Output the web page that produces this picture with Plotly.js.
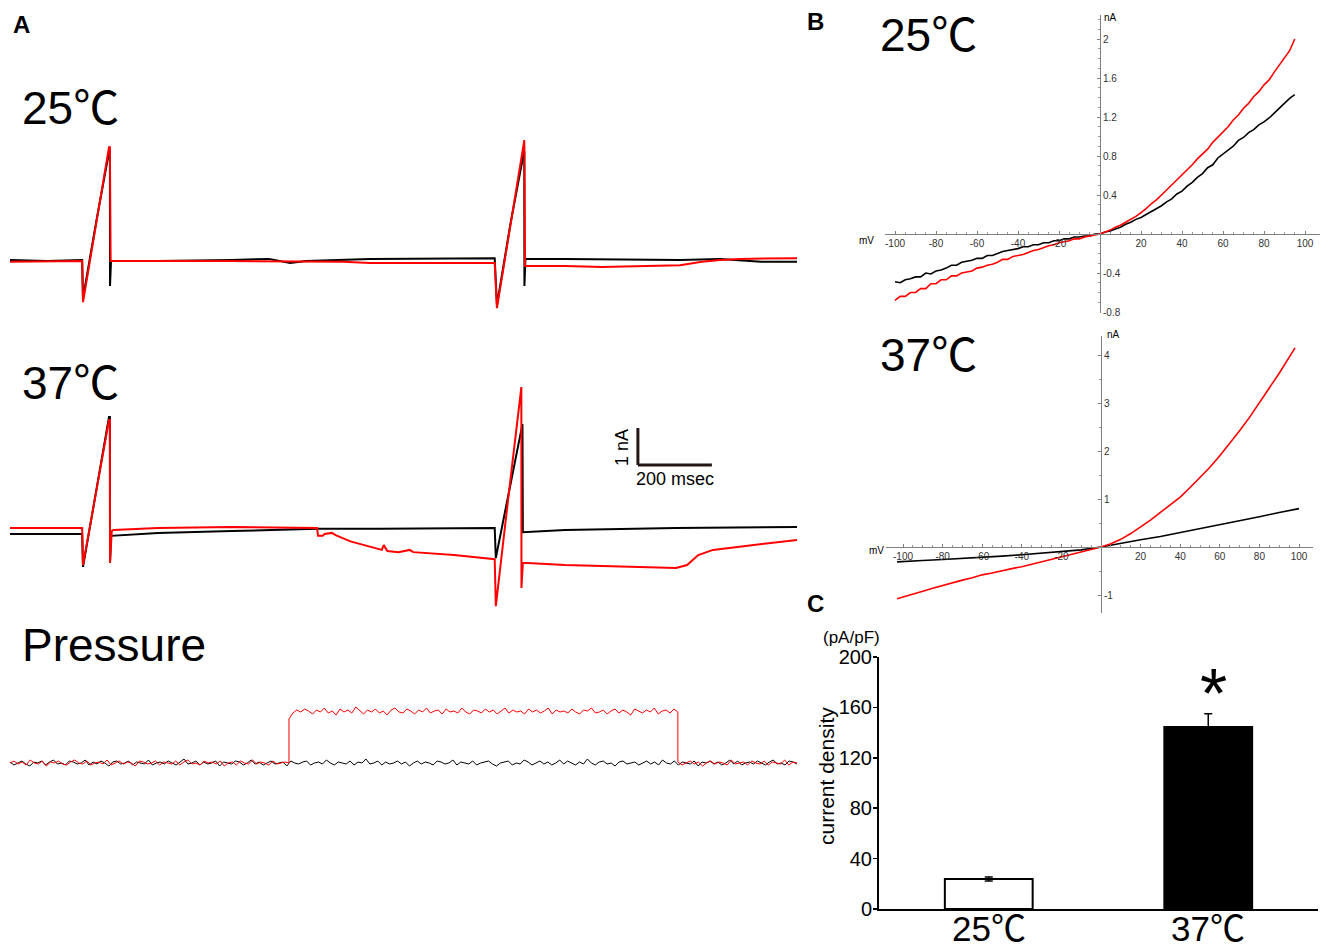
<!DOCTYPE html>
<html>
<head>
<meta charset="utf-8">
<script src="https://cdn.plot.ly/plotly-3.0.1.min.js"></script>
<style>html,body{margin:0;padding:0;background:#fff;}#chart{width:1330px;height:951px;}</style>
</head>
<body>
<div id="chart"></div>
<script>
// ---------------- DATA ----------------
// Panel A, 25 °C whole-cell current traces (time in ms, current in nA)
const a25BlackT = [0,100,195,197.3,232.4,267.6,270,270.3,273,400,600,700,757,800,973,1200,1310,1316,1352,1389,1390,1390.3,1393,1500,1700,1811,1919,1973,2030,2127];
const a25BlackI = [0,-0.03,0,-1.03,1.00,2.92,2.92,-0.70,-0.03,-0.03,0,0.03,-0.08,-0.03,0.03,0.03,0.05,-1.22,0.95,2.92,2.92,-0.70,0.03,0.03,0,0,0.03,0,-0.05,-0.05];
const a25RedT = [0,100,195,197.3,232.4,267.6,270,272,600,900,973,1200,1310,1316,1352,1389,1390,1392,1500,1600,1700,1811,1870,1919,1973,2127];
const a25RedI = [-0.05,-0.03,-0.03,-1.14,1.00,3.05,3.05,-0.03,-0.03,-0.05,-0.08,-0.08,-0.08,-1.30,0.92,3.24,3.24,-0.16,-0.16,-0.19,-0.16,-0.14,-0.05,0,0.03,0.05];

// Panel A, 37 °C
const a37BlackT = [0,195,197.3,232.4,267.6,270,270.3,273,400,600,832,1000,1200,1310,1313,1349,1384,1385,1386,1500,1800,2127];
const a37BlackI = [0,0,-0.89,1.15,3.16,3.16,-0.78,-0.05,0.03,0.08,0.14,0.14,0.16,0.16,-0.65,1.20,2.97,2.97,0.05,0.11,0.16,0.19];
const a37RedT = [0,195,197.3,232.4,267.6,270,270.3,275,280,400,600,830,832.4,845,850,870,880,920,973,990,1005,1010,1020,1050,1080,1090,1200,1310,1313,1347,1381,1382,1382.3,1386,1500,1700,1800,1830,1860,1900,2000,2127];
const a37RedI = [0.16,0.16,-0.84,1.15,3.08,3.08,-0.78,0.08,0.11,0.16,0.19,0.16,-0.05,-0.05,0.0,0.03,-0.03,-0.20,-0.35,-0.38,-0.43,-0.30,-0.46,-0.49,-0.43,-0.49,-0.57,-0.68,-1.95,1.00,3.97,3.97,-1.46,-0.78,-0.84,-0.89,-0.92,-0.84,-0.57,-0.43,-0.32,-0.16];

// Panel A, pressure (arbitrary units), samples spread evenly over each segment
const pressureEndMs = 2127;
const pressureOnMs = 754;
const pressureOffMs = 1805;
const pressBlack = [1,-2,0,2,-1,-3,1,0,2,-2, 1,3,-1,0,-2,2,1,-1,0,3, -2,1,-1,2,0,-3,1,2,-1,0, 2,-2,1,0,-1,3,-2,0,1,-1,
  2,0,-2,1,4,-1,0,2,-2,1, -1,0,2,-3,1,0,-1,2,1,-2, 0,3,-1,1,-2,0,2,-1,0,1, -3,2,0,-1,1,2,-2,0,1,-1,
  3,0,-2,1,0,-1,2,-2,1,0, 4,-1,0,2,-2,1,-1,0,2,-1, 1,-3,0,2,-1,1,0,-2,2,1, -1,0,3,-2,1,0,-1,2,-2,0,
  1,2,-1,-3,0,1,2,-2,0,-1, 3,1,-2,0,2,-1,1,-2,0,3, -1,2,0,-2,1,-1,4,0,-2,1, 2,-1,0,-3,1,2,-1,0,1,-2,
  0,2,-1,1,-2,3,0,-1,2,-2, 1,0,-1,2,-3,1,0,2,-1,1, -2,0,3,-1,2,-2,0,1,-1,2, 0,-2,1,3,-1,0,-2,2,1,-1];
const pressRedPre = [0,2,-1,1,-2,3,0,-1,2,-3, 1,0,2,-1,-2,1,3,0,-1,2, -2,0,1,-1,3,-2,0,2,-1,1, 0,-3,2,1,-1,0,2,-2,1,0,
  -1,2,-2,1,3,-1,0,-2,2,0, 1,-1,2,-3,0,1,-2,2,0,-1, 3,-1,1,0,-2,2,-1,0,1,0];
const pressRedOn = [44,50,53,51,54,52,49,53,51,55, 50,52,48,54,51,53,50,56,52,49, 53,51,54,50,52,48,53,55,51,50, 54,52,49,53,51,55,50,52,53,49,
  54,51,52,50,55,51,49,53,52,50, 54,51,53,49,52,55,50,53,51,52, 49,54,51,53,50,52,55,49,53,51, 52,50,54,51,49,53,52,55,50,51,
  53,49,52,54,50,53,51,48,54,52, 50,53,51,55,49,52,53,50,54,51];
const pressRedPost = [1,-2,0,2,-1,1,-3,0,2,-1, 1,0,-2,3,-1,0,1,-2,2,0, -1,2,-2,1,0,-1,3,-2,1,0];

// Panel B, I-V relations during the voltage ramp (mV, nA)
const iv25StartMv = -100, iv25EndMv = 95;   // ramp sampled every 2.5 mV
const iv25Red = [-0.68,-0.64,-0.64,-0.60,-0.60,-0.56,-0.56,-0.51,-0.51,-0.47,-0.47,-0.43,-0.43,-0.40,-0.39,-0.38,-0.35,-0.34,-0.32,-0.31,
  -0.29,-0.26,-0.26,-0.23,-0.22,-0.21,-0.19,-0.17,-0.16,-0.14,-0.12,-0.11,-0.09,-0.08,-0.07,-0.05,-0.05,-0.03,-0.02,-0.01,
  0.00,0.02,0.04,0.07,0.09,0.12,0.15,0.18,0.22,0.26,0.31,0.35,0.40,0.45,0.50,0.55,0.61,0.65,0.71,0.77,
  0.82,0.87,0.94,0.99,1.05,1.10,1.17,1.22,1.29,1.34,1.41,1.46,1.53,1.58,1.66,1.73,1.81,1.88,2.00];
const iv25Black = [-0.49,-0.50,-0.47,-0.46,-0.44,-0.44,-0.40,-0.41,-0.38,-0.37,-0.35,-0.32,-0.32,-0.29,-0.28,-0.27,-0.25,-0.25,-0.22,-0.22,
  -0.20,-0.18,-0.17,-0.16,-0.15,-0.13,-0.13,-0.11,-0.11,-0.09,-0.09,-0.07,-0.07,-0.05,-0.05,-0.03,-0.03,-0.02,-0.02,0.00,
  0.00,0.02,0.03,0.05,0.07,0.10,0.12,0.15,0.17,0.20,0.23,0.26,0.29,0.33,0.36,0.41,0.44,0.49,0.53,0.58,
  0.62,0.68,0.71,0.78,0.82,0.86,0.90,0.96,0.99,1.04,1.07,1.12,1.15,1.19,1.24,1.30,1.34,1.39,1.43];
const iv37RedVolt = [-103,-100,-95,-90,-85,-80,-75,-70,-65,-60,-55,-50,-45,-40,-35,-30,-25,-20,-15,-10,-5,0,5,10,15,20,25,30,35,40,45,50,55,60,65,70,75,80,85,90,95,98];
const iv37Red = [-1.08,-1.04,-0.98,-0.92,-0.86,-0.80,-0.75,-0.69,-0.64,-0.58,-0.54,-0.49,-0.45,-0.41,-0.36,-0.31,-0.26,-0.21,-0.16,-0.10,-0.05,0.00,0.07,0.16,0.28,0.42,0.56,0.72,0.88,1.04,1.24,1.45,1.66,1.90,2.15,2.42,2.70,3.00,3.30,3.62,3.95,4.15];
const iv37BlackVolt = [-103,-100,-90,-80,-70,-60,-50,-40,-30,-20,-10,0,10,20,30,40,50,60,70,80,90,100];
const iv37Black = [-0.31,-0.30,-0.28,-0.26,-0.24,-0.21,-0.19,-0.16,-0.13,-0.10,-0.06,0.00,0.08,0.15,0.22,0.30,0.38,0.46,0.55,0.63,0.72,0.80];

// Panel B tick labels
const iv25XTicks = [-100,-80,-60,-40,-20,20,40,60,80,100];
const iv25YTicks = [-0.8,-0.4,0.4,0.8,1.2,1.6,2];
const iv37XTicks = [-100,-80,-60,-40,-20,20,40,60,80,100];
const iv37YTicks = [-1,1,2,3,4];

// Panel C, current density (pA/pF)
const barCats = ['25℃','37℃'];
const barMeans = [23.8, 144.4];
const barErrs = [1.5, 10.5];

// ---------------- LAYOUT HELPERS ----------------
const W = 1330, H = 951;
const domX = (a,b) => [a/W, b/W];
const domY = (top,bot) => [1-bot/H, 1-top/H];
const fx = px => px/W;
const fy = py => 1-py/H;
const TXT = 'Liberation Sans, Arial, "Noto Sans CJK JP", sans-serif';
const even = (a,b,n) => { const out=[]; for(let i=0;i<n;i++) out.push(n===1?a:a+(b-a)*i/(n-1)); return out; };
const steps = (a,b,s) => { const o=[]; for(let v=a; v<=b+1e-9; v+=s) o.push(+v.toFixed(3)); return o; };
const iv25Volt = steps(iv25StartMv, iv25EndMv, 2.5);

const RED = '#ff0000', BLK = '#000000';
const line = (w,c) => ({color:c, width:w});

const traces = [
  {x:a25BlackT, y:a25BlackI, xaxis:'x', yaxis:'y', mode:'lines', line:line(2,BLK)},
  {x:a25RedT, y:a25RedI, xaxis:'x', yaxis:'y', mode:'lines', line:line(2,RED)},
  {x:a37BlackT, y:a37BlackI, xaxis:'x2', yaxis:'y2', mode:'lines', line:line(2,BLK)},
  {x:a37RedT, y:a37RedI, xaxis:'x2', yaxis:'y2', mode:'lines', line:line(2,RED)},
  {x:even(0,pressureEndMs,pressBlack.length), y:pressBlack, xaxis:'x3', yaxis:'y3', mode:'lines', line:line(1,BLK)},
  {x:even(0,pressureOnMs,pressRedPre.length).concat(even(pressureOnMs,pressureOffMs,pressRedOn.length), even(pressureOffMs,pressureEndMs,pressRedPost.length)),
   y:pressRedPre.concat(pressRedOn, pressRedPost), xaxis:'x3', yaxis:'y3', mode:'lines', line:line(1,RED)},
  {x:iv25Volt, y:iv25Black, xaxis:'x4', yaxis:'y4', mode:'lines', line:line(1.6,BLK)},
  {x:iv25Volt, y:iv25Red, xaxis:'x4', yaxis:'y4', mode:'lines', line:line(1.6,RED)},
  {x:iv37BlackVolt, y:iv37Black, xaxis:'x5', yaxis:'y5', mode:'lines', line:line(1.6,BLK)},
  {x:iv37RedVolt, y:iv37Red, xaxis:'x5', yaxis:'y5', mode:'lines', line:line(1.6,RED)},
  {type:'bar', x:barCats, y:barMeans, xaxis:'x6', yaxis:'y6', width:0.4,
   marker:{color:['#ffffff','#000000'], line:{color:'#000', width:2}},
   error_y:{type:'data', array:barErrs, visible:true, color:'#000', thickness:1.5, width:4}}
];

const hidden = {visible:false, showgrid:false, zeroline:false, fixedrange:true};
const tickFontB = {family:TXT, size:10, color:'#333'};
const ivX = (dom, rng, pos, ticks) => ({domain:dom, range:rng, anchor:'free', position:pos, showline:true, linecolor:'#808080', linewidth:1,
  showgrid:false, zeroline:false, tickmode:'array', tickvals:ticks, ticktext:ticks.map(String), ticks:'inside', ticklen:3, tickcolor:'#808080', tickfont:tickFontB,
  minor:{tickvals:steps(-100,100,5), ticks:'inside', ticklen:2, tickcolor:'#999'}});
const ivY = (dom, rng, pos, ticks, minorV) => ({domain:dom, range:rng, anchor:'free', position:pos, side:'right', showline:true, linecolor:'#808080', linewidth:1,
  showgrid:false, zeroline:false, tickmode:'array', tickvals:ticks, ticktext:ticks.map(String), ticks:'inside', ticklen:3, tickcolor:'#808080', tickfont:tickFontB,
  minor:{tickvals:minorV, ticks:'inside', ticklen:2, tickcolor:'#999'}});

const layout = {
  width:W, height:H, margin:{l:0,r:0,t:0,b:0,pad:0}, showlegend:false,
  paper_bgcolor:'#fff', plot_bgcolor:'rgba(0,0,0,0)', font:{family:TXT, color:'#000'},
  xaxis: Object.assign({domain:domX(10,797), range:[0,2127], anchor:'y'}, hidden),
  yaxis: Object.assign({domain:domY(120,320), range:[(260-320)/37,(260-120)/37], anchor:'x'}, hidden),
  xaxis2: Object.assign({domain:domX(10,797), range:[0,2127], anchor:'y2'}, hidden),
  yaxis2: Object.assign({domain:domY(370,620), range:[(534-620)/37,(534-370)/37], anchor:'x2'}, hidden),
  xaxis3: Object.assign({domain:domX(10,797), range:[0,2127], anchor:'y3'}, hidden),
  yaxis3: Object.assign({domain:domY(680,790), range:[-27,83], anchor:'x3'}, hidden),
  xaxis4: ivX(domX(885,1320), [(885-1100)/2.05,(1320-1100)/2.05], fy(234), iv25XTicks),
  yaxis4: ivY(domY(15,313), [(234-313)/97.5,(234-15)/97.5], fx(1100), iv25YTicks, steps(-0.8,2.2,0.1)),
  xaxis5: ivX(domX(886,1313), [(886-1101)/1.98,(1313-1101)/1.98], fy(547), iv37XTicks),
  yaxis5: ivY(domY(336,613), [(547-613)/48,(547-336)/48], fx(1101), iv37YTicks, steps(-1.5,4.5,0.5)),
  xaxis6: {domain:domX(879,1318), range:[-0.5,1.5], type:'category', anchor:'y6', showline:true, linecolor:'#000', linewidth:2,
    ticks:'', showticklabels:false, showgrid:false, zeroline:false},
  yaxis6: {domain:domY(657,909), range:[0,200], anchor:'x6', showline:true, linecolor:'#000', linewidth:2, tickmode:'linear', tick0:0, dtick:40,
    ticks:'outside', ticklen:4, tickwidth:1.5, tickcolor:'#000', ticklabelstandoff:-3, showgrid:false, zeroline:false, tickfont:{family:TXT, size:20, color:'#000'}},
  shapes:[
    {type:'line', xref:'x2', yref:'y2', x0:1697, x1:1697, y0:(534-465)/37, y1:(534-428)/37, line:{color:'#231815', width:3}},
    {type:'line', xref:'x2', yref:'y2', x0:1697, x1:1897, y0:(534-465)/37, y1:(534-465)/37, line:{color:'#231815', width:3}}
  ],
  annotations:[]
};

const ann = (text, px, py, size, opts) => Object.assign({xref:'paper', yref:'paper', x:fx(px), y:fy(py), text:text, showarrow:false,
  font:{family:TXT, size:size, color:'#000'}, xanchor:'center', yanchor:'middle'}, opts||{});
layout.annotations.push(
  ann('<b>A</b>', 21, 25, 24),
  ann('<b>B</b>', 815, 22, 24),
  ann('<b>C</b>', 815, 603, 24),
  ann('25℃', 20, 108, 46, {xanchor:'left'}),
  ann('37℃', 20, 383, 46, {xanchor:'left'}),
  ann('Pressure', 20, 645, 46, {xanchor:'left'}),
  ann('25℃', 878, 35, 46, {xanchor:'left'}),
  ann('37℃', 878, 355, 46, {xanchor:'left'}),
  ann('mV', 866, 241, 10),
  ann('nA', 1110, 18, 10),
  ann('mV', 876, 550, 10),
  ann('nA', 1113, 334, 10),
  ann('(pA/pF)', 851, 637, 17),
  ann('current density', 826, 776, 21, {textangle:-90}),
  ann('*', 1213, 694, 70),
  {xref:'x2', yref:'y2', x:1654, y:(534-447)/37, text:'1 nA', textangle:-90, showarrow:false, font:{family:TXT, size:18, color:'#000'}},
  {xref:'x2', yref:'y2', x:1797, y:(534-479)/37, text:'200 msec', showarrow:false, font:{family:TXT, size:18, color:'#000'}}
);
barCats.forEach(c => layout.annotations.push({xref:'x6', yref:'paper', x:c, y:fy(950), text:c, showarrow:false,
  xanchor:'center', yanchor:'bottom', font:{family:TXT, size:35, color:'#000'}}));

Plotly.newPlot('chart', traces, layout, {staticPlot:true, displayModeBar:false});
</script>
</body>
</html>
